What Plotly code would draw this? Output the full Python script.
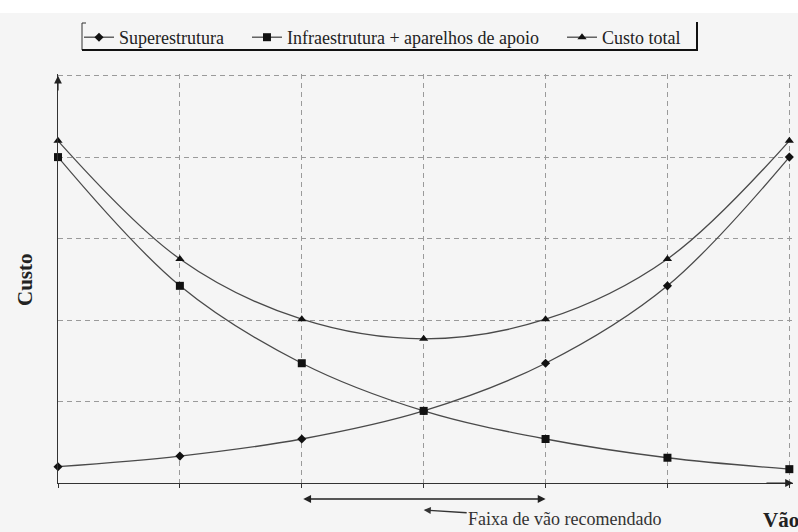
import plotly.graph_objects as go

# --- data ---
vao = [0, 1, 2, 3, 4, 5, 6]
superestrutura = [0.20, 0.33, 0.54, 0.885, 1.47, 2.42, 4.00]
infraestrutura = [4.00, 2.42, 1.47, 0.885, 0.54, 0.31, 0.17]
custo_total = [4.20, 2.75, 2.01, 1.77, 2.01, 2.75, 4.20]
names = ["Superestrutura", "Infraestrutura + aparelhos de apoio", "Custo total"]

FONT = "Liberation Serif"
BG = "#f5f5f5"
LINE = "#4a4a4a"
MK = "#111111"
GRID = "#9a9a9a"

W, H = 798, 532
L, R, T, B = 58, 5, 74, 49
PW, PH = W - L - R, H - T - B
YMAX = 5.02


def px(xp):
    return (xp - L) / PW


def py(yp):
    return (H - B - yp) / PH


PAD = "\u00a0" * 4  # trailing spacing between legend entries

fig = go.Figure()
fig.add_trace(go.Scatter(x=vao, y=superestrutura, name=names[0] + PAD, mode="lines+markers",
                         line=dict(color=LINE, width=1.3, shape="spline"),
                         marker=dict(symbol="diamond", size=7, color=MK), cliponaxis=False))
fig.add_trace(go.Scatter(x=vao, y=infraestrutura, name=names[1] + PAD, mode="lines+markers",
                         line=dict(color=LINE, width=1.3, shape="spline"),
                         marker=dict(symbol="square", size=8, color=MK), cliponaxis=False))
fig.add_trace(go.Scatter(x=vao, y=custo_total, name=names[2], mode="lines+markers",
                         line=dict(color=LINE, width=1.3, shape="spline"),
                         marker=dict(symbol="triangle-up", size=8, color=MK), cliponaxis=False))

shapes = [
    # white strip at the very top
    dict(type="rect", xref="paper", yref="paper", x0=px(-5), x1=px(W + 5), y0=py(13), y1=py(-5),
         fillcolor="white", line=dict(width=0), layer="below"),
    # legend frame: thin left, heavy bottom and right
    dict(type="line", xref="paper", yref="paper", x0=px(82), x1=px(82), y0=py(23), y1=py(50),
         line=dict(color="#333", width=1)),
    dict(type="line", xref="paper", yref="paper", x0=px(82), x1=px(86), y0=py(23), y1=py(23),
         line=dict(color="#333", width=1)),
    dict(type="line", xref="paper", yref="paper", x0=px(82), x1=px(698), y0=py(50), y1=py(50),
         line=dict(color="#111", width=2)),
    dict(type="line", xref="paper", yref="paper", x0=px(697), x1=px(697), y0=py(22), y1=py(51),
         line=dict(color="#111", width=2)),
]

annotations = [
    # axis arrowheads
    dict(x=0, y=5, ax=0, ay=4.8, xref="x", yref="y", axref="x", ayref="y", text="",
         showarrow=True, arrowhead=2, arrowsize=1.3, arrowwidth=1.2, arrowcolor="#222"),
    dict(x=6.03, y=0, ax=5.8, ay=0, xref="x", yref="y", axref="x", ayref="y", text="",
         showarrow=True, arrowhead=2, arrowsize=1.3, arrowwidth=1.2, arrowcolor="#222"),
    # recommended span double arrow
    dict(x=4, y=py(499), ax=2, ay=0, xref="x", yref="paper", axref="x", ayref="pixel",
         text="", showarrow=True, arrowhead=2, startarrowhead=2, arrowside="end+start",
         arrowsize=1.2, arrowwidth=1.3, arrowcolor="#222"),
    # label with pointer
    dict(x=3, y=py(510), xref="x", yref="paper", ax=141, ay=9, text="Faixa de vão recomendado",
         showarrow=True, arrowhead=2, arrowsize=1.1, arrowwidth=1.3, arrowcolor="#333",
         font=dict(family=FONT, size=18, color="#333")),
    # axis titles
    dict(x=px(25), y=py(280), xref="paper", yref="paper", xanchor="center", yanchor="middle",
         text="<b>Custo</b>", textangle=-90,
         showarrow=False, font=dict(family=FONT, size=21, color="#222")),
    dict(x=px(781), y=py(520), xref="paper", yref="paper", xanchor="center", yanchor="middle",
         text="<b>Vão</b>",
         showarrow=False, font=dict(family=FONT, size=21, color="#222")),
]

fig.update_layout(
    width=W, height=H,
    margin=dict(l=L, r=R, t=T, b=B),
    paper_bgcolor=BG, plot_bgcolor=BG,
    font=dict(family=FONT, size=18, color="#222"),
    showlegend=True,
    legend=dict(orientation="h", x=px(79), y=py(19), xanchor="left", yanchor="top",
                bgcolor="rgba(0,0,0,0)", borderwidth=0, font=dict(family=FONT, size=18, color="#222"),
                itemwidth=30, tracegroupgap=0),
    xaxis=dict(range=[0, 6.03], tickvals=vao, showticklabels=False, ticks="outside", ticklen=4,
               tickcolor="#333", showline=True, linecolor="#333", linewidth=1.2,
               showgrid=True, gridcolor=GRID, griddash="5px,4px", gridwidth=1, zeroline=False,
               fixedrange=True),
    yaxis=dict(range=[0, YMAX], tickvals=[1, 2, 3, 4, 5], showticklabels=False, ticks="",
               showline=True, linecolor="#333", linewidth=1.2,
               showgrid=True, gridcolor=GRID, griddash="5px,4px", gridwidth=1, zeroline=False,
               fixedrange=True),
    shapes=shapes,
    annotations=annotations,
)

fig.write_html("out.html", config={"displayModeBar": False},
               post_script="document.body.style.margin='0px';")
